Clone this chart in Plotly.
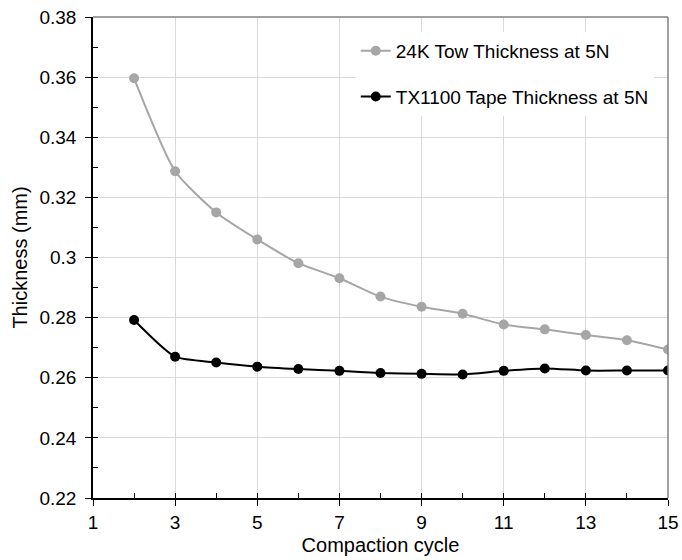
import plotly.graph_objects as go

# Compaction cycles and measured thickness (mm) at 5 N
cycles = [2, 3, 4, 5, 6, 7, 8, 9, 10, 11, 12, 13, 14, 15]
tow_24k = [0.3596, 0.3287, 0.3150, 0.3060, 0.2981, 0.2931, 0.2870,
           0.2836, 0.2813, 0.2777, 0.2761, 0.2742, 0.2725, 0.2694]
tape_tx1100 = [0.2792, 0.2670, 0.2651, 0.2637, 0.2629, 0.2623, 0.2616,
               0.2613, 0.2611, 0.2623, 0.2631, 0.2624, 0.2624, 0.2624]

series_names = ["24K Tow Thickness at 5N", "TX1100 Tape Thickness at 5N"]
x_ticks = [1, 3, 5, 7, 9, 11, 13, 15]
y_ticks = [0.22, 0.24, 0.26, 0.28, 0.30, 0.32, 0.34, 0.36, 0.38]
y_tick_text = ["0.22", "0.24", "0.26", "0.28", "0.3", "0.32", "0.34", "0.36", "0.38"]

FONT = "Liberation Sans, Arial, sans-serif"
x_range = [1, 15]
y_range = [0.22, 0.38]

fig = go.Figure()
fig.add_trace(go.Scatter(
    x=cycles, y=tow_24k, name=series_names[0], mode="lines+markers",
    line=dict(color="#a6a6a6", width=2, shape="spline", smoothing=0.6),
    marker=dict(color="#a6a6a6", size=10), legendgroup="a",
))
fig.add_trace(go.Scatter(
    x=cycles, y=tape_tx1100, name=series_names[1], mode="lines+markers",
    line=dict(color="#000000", width=2, shape="spline", smoothing=0.6),
    marker=dict(color="#000000", size=10), legendgroup="b",
))
# invisible trace hosting the inner tick axes
fig.add_trace(go.Scatter(x=[None], y=[None], xaxis="x2", yaxis="y2",
                         showlegend=False, hoverinfo="skip"))

tick_font = dict(family=FONT, size=19, color="#000000")
title_font = dict(family=FONT, size=20, color="#000000")

fig.update_layout(
    width=682, height=560,
    margin=dict(l=93, r=14, t=17, b=62, autoexpand=False),
    paper_bgcolor="white", plot_bgcolor="white",
    font=dict(family=FONT, size=19, color="#000000"),
    showlegend=True,
    legend=dict(
        x=0.457, y=0.969, xanchor="left", yanchor="top",
        bgcolor="white", borderwidth=0,
        font=dict(family=FONT, size=19, color="#000000"),
        traceorder="grouped", tracegroupgap=18,
    ),
    xaxis=dict(
        range=x_range, tickmode="array", tickvals=x_ticks, automargin=False,
        ticks="outside", ticklen=6, tickcolor="#000000", tickwidth=1,
        showline=True, linecolor="#000000", linewidth=1.5,
        showgrid=True, gridcolor="#d9d9d9", gridwidth=1,
        zeroline=False, tickfont=tick_font,
        title=dict(text="Compaction cycle", font=title_font, standoff=6),
    ),
    yaxis=dict(
        range=y_range, tickmode="array", tickvals=y_ticks, ticktext=y_tick_text,
        automargin=False,
        ticks="outside", ticklen=6, tickcolor="#000000", tickwidth=1,
        showline=True, linecolor="#000000", linewidth=1.5,
        showgrid=True, gridcolor="#d9d9d9", gridwidth=1,
        zeroline=False, tickfont=tick_font, ticklabelstandoff=5,
        title=dict(text="Thickness (mm)", font=title_font, standoff=6),
    ),
    xaxis2=dict(
        overlaying="x", range=x_range, tickmode="linear", tick0=1, dtick=1,
        ticks="inside", ticklen=5, tickcolor="#000000", tickwidth=1,
        showticklabels=False, showgrid=False, showline=False, zeroline=False,
    ),
    yaxis2=dict(
        overlaying="y", range=y_range, tickmode="linear", tick0=0.22, dtick=0.01,
        ticks="inside", ticklen=5, tickcolor="#000000", tickwidth=1,
        showticklabels=False, showgrid=False, showline=False, zeroline=False,
    ),
    shapes=[
        dict(type="line", xref="paper", yref="paper", x0=0, x1=1, y0=1, y1=1,
             line=dict(color="#808080", width=1.5)),
        dict(type="line", xref="paper", yref="paper", x0=1, x1=1, y0=0, y1=1,
             line=dict(color="#808080", width=1.5)),
    ],
)

fig.write_html("out.html")
